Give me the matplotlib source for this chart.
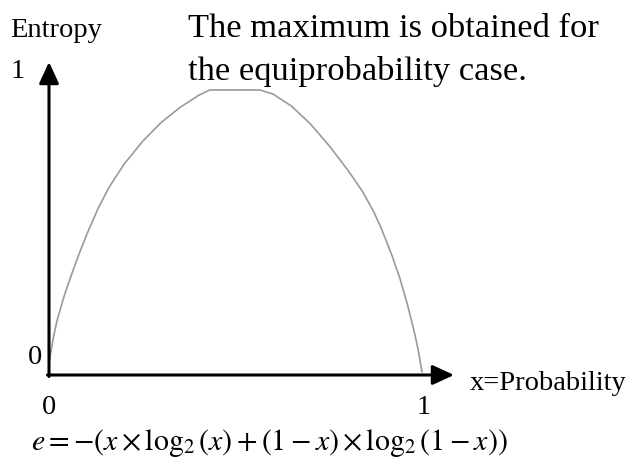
import matplotlib
matplotlib.use('Agg')
import matplotlib.pyplot as plt

plt.rcParams['font.family'] = ['Liberation Serif', 'DejaVu Serif']
plt.rcParams['mathtext.fontset'] = 'stix'

# binary entropy curve, values read point by point
prob = [0.0, 0.01, 0.02, 0.04, 0.06, 0.08, 0.10, 0.13, 0.16, 0.20, 0.25,
        0.30, 0.35, 0.40, 0.43, 0.565, 0.60, 0.65, 0.70, 0.75, 0.80, 0.84,
        0.87, 0.89, 0.92, 0.94, 0.96, 0.98, 0.99, 1.0]
entropy = [0.0, 0.08, 0.145, 0.24, 0.32, 0.395, 0.465, 0.56, 0.64, 0.725, 0.81,
           0.88, 0.935, 0.98, 1.0, 1.0, 0.985, 0.94, 0.875, 0.795, 0.705, 0.625,
           0.55, 0.49, 0.385, 0.305, 0.21, 0.10, 0.035, -0.044]

title_lines = ['The maximum is obtained for', 'the equiprobability case.']
formula = r'$e=-\left(x\times\log_2\left(x\right)+(1-x)\times\log_2\left(1-x\right)\right)$'

W, H = 634, 467
fig = plt.figure(figsize=(W / 100, H / 100), dpi=100)
ax = fig.add_axes([0, 0, 1, 1])

# x=0 at px 49.5, x=1 at px 422; y=0 at px 360, y=1 at px 90
x0, xs = 49.5, 372.5
y0, ys = 360.0, 270.0
ax.set_xlim(-x0 / xs, (W - x0) / xs)
ax.set_ylim((y0 - H) / ys, y0 / ys)
ax.axis('off')


def px(x, y):
    return (x - x0) / xs, (y0 - y) / ys


ax.plot(prob, entropy, color='#9a9a9a', lw=1.2, solid_capstyle='round',
        solid_joinstyle='round')

arrow = dict(arrowstyle='-|>,head_length=0.65,head_width=0.3',
             mutation_scale=20, color='black', lw=2.2, shrinkA=0, shrinkB=0)
ax.annotate('', xy=px(49, 62), xytext=px(49, 376.5), arrowprops=arrow)
ax.annotate('', xy=px(454, 375), xytext=px(47.5, 375), arrowprops=arrow)

fs = 20.5
ax.text(*px(10, 37), 'Entropy', fontsize=fs, ha='left', va='baseline')
ax.text(*px(18, 72), '1', fontsize=fs, ha='center', va='center')
ax.text(*px(35, 358), '0', fontsize=fs, ha='center', va='center')
ax.text(*px(49, 408), '0', fontsize=fs, ha='center', va='center')
ax.text(*px(424, 408), '1', fontsize=fs, ha='center', va='center')
ax.text(*px(470, 384), 'x=Probability', fontsize=fs, ha='left', va='center')

ax.text(*px(188, 37), title_lines[0], fontsize=24.8, ha='left', va='baseline')
ax.text(*px(188, 80), title_lines[1], fontsize=24.8, ha='left', va='baseline')

ax.text(*px(31, 450), formula, fontsize=21.5, ha='left', va='baseline')

fig.savefig('out.png', dpi=100)
